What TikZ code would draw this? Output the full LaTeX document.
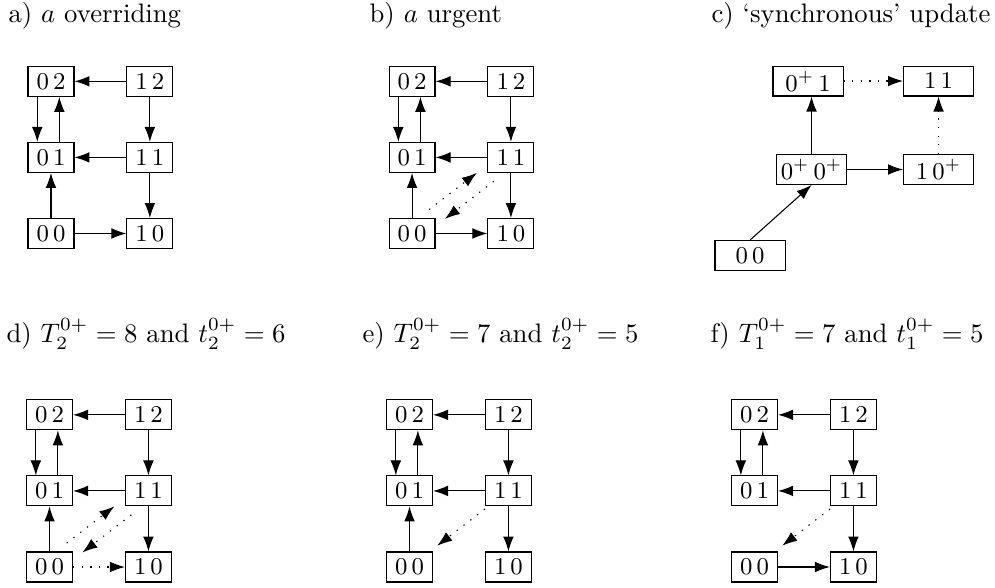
\documentclass[tikz,border=0pt]{standalone}
\usepackage{amsmath,amssymb}
\usetikzlibrary{arrows.meta,calc}

\tikzset{
  state/.style={draw,rectangle,minimum width=17.2pt,minimum height=11.2pt,inner sep=1pt,font=\small},
  widestate/.style={state,minimum width=26.2pt},
  trans/.style={-{Latex[length=5.6pt,width=4pt]}},
  dottrans/.style={trans,dash pattern=on 0.5pt off 2.7pt},
  caption/.style={anchor=base west,inner sep=0pt}
}

\begin{document}
\begin{tikzpicture}
  \useasboundingbox (0,0) rectangle (13.079,-7.729);

  % captions
  \node[caption] (capa) at (0.105,-0.302) {a) $a$ overriding};
  \node[caption] (capb) at (4.851,-0.302) {b) $a$ urgent};
  \node[caption] (capc) at (9.346,-0.302) {c) `synchronous' update};
  \node[caption] (capd) at (0.079,-4.496) {d) $T_2^{0+}=8$ and $t_2^{0+}=6$};
  \node[caption] (cape) at (4.758,-4.496) {e) $T_2^{0+}=7$ and $t_2^{0+}=5$};
  \node[caption] (capf) at (9.333,-4.496) {f) $T_1^{0+}=7$ and $t_1^{0+}=5$};

  % a) overriding
  \begin{scope}[shift={(0.670,-3.069)}]
    \node[state] (a00) at (0,0) {$0\,0$};
    \node[state] (a10) at (1.3,0) {$1\,0$};
    \node[state] (a01) at (0,1) {$0\,1$};
    \node[state] (a11) at (1.3,1) {$1\,1$};
    \node[state] (a02) at (0,2) {$0\,2$};
    \node[state] (a12) at (1.3,2) {$1\,2$};
    \draw[trans] (a12) -- (a02);
    \draw[trans] ([xshift=-0.18cm]a02.south) -- ([xshift=-0.18cm]a01.north);
    \draw[trans] ([xshift=0.11cm]a01.north) -- ([xshift=0.11cm]a02.south);
    \draw[trans] (a12) -- (a11);
    \draw[trans] (a11) -- (a01);
    \draw[trans] (a00) -- (a01);
    \draw[trans] (a11) -- (a10);
    \draw[trans] (a00) -- (a10);
  \end{scope}

  % b) urgent
  \begin{scope}[shift={(5.416,-3.069)}]
    \node[state] (b00) at (0,0) {$0\,0$};
    \node[state] (b10) at (1.3,0) {$1\,0$};
    \node[state] (b01) at (0,1) {$0\,1$};
    \node[state] (b11) at (1.3,1) {$1\,1$};
    \node[state] (b02) at (0,2) {$0\,2$};
    \node[state] (b12) at (1.3,2) {$1\,2$};
    \draw[trans] (b12) -- (b02);
    \draw[trans] ([xshift=-0.18cm]b02.south) -- ([xshift=-0.18cm]b01.north);
    \draw[trans] ([xshift=0.11cm]b01.north) -- ([xshift=0.11cm]b02.south);
    \draw[trans] (b12) -- (b11);
    \draw[trans] (b11) -- (b01);
    \draw[trans] (b00) -- (b01);
    \draw[trans] (b11) -- (b10);
    \draw[trans] (b00) -- (b10);
    \draw[dottrans] ($(b00)!0.37cm!(b11)+(-0.068,0.089)$) -- ($(b11)!0.48cm!(b00)+(-0.068,0.089)$);
    \draw[dottrans] ($(b11)!0.37cm!(b00)+(0.068,-0.089)$) -- ($(b00)!0.46cm!(b11)+(0.068,-0.089)$);
  \end{scope}

  % c) synchronous update
  \node[widestate] (c00) at (9.859,-3.359) {$0\,0$};
  \node[widestate] (cpp) at (10.667,-2.228) {$0^+\,0^+$};
  \node[widestate] (c1p) at (12.337,-2.228) {$1\,0^+$};
  \node[widestate] (cp1) at (10.621,-1.065) {$0^+\,1$};
  \node[widestate] (c11) at (12.337,-1.065) {$1\,1$};
  \draw[trans] (c00.north) -- (cpp.south);
  \draw[trans] (cpp.north) -- (cpp.north |- cp1.south);
  \draw[trans] (cpp) -- (c1p);
  \draw[dottrans] (cp1) -- (c11);
  \draw[dottrans] (c1p) -- (c11);

  % d)
  \begin{scope}[shift={(0.651,-7.453)}]
    \node[state] (d00) at (0,0) {$0\,0$};
    \node[state] (d10) at (1.3,0) {$1\,0$};
    \node[state] (d01) at (0,1) {$0\,1$};
    \node[state] (d11) at (1.3,1) {$1\,1$};
    \node[state] (d02) at (0,2) {$0\,2$};
    \node[state] (d12) at (1.3,2) {$1\,2$};
    \draw[trans] (d12) -- (d02);
    \draw[trans] ([xshift=-0.18cm]d02.south) -- ([xshift=-0.18cm]d01.north);
    \draw[trans] ([xshift=0.11cm]d01.north) -- ([xshift=0.11cm]d02.south);
    \draw[trans] (d12) -- (d11);
    \draw[trans] (d11) -- (d01);
    \draw[trans] (d00) -- (d01);
    \draw[trans] (d11) -- (d10);
    \draw[dottrans] (d00) -- (d10);
    \draw[dottrans] ($(d00)!0.37cm!(d11)+(-0.068,0.089)$) -- ($(d11)!0.48cm!(d00)+(-0.068,0.089)$);
    \draw[dottrans] ($(d11)!0.37cm!(d00)+(0.068,-0.089)$) -- ($(d00)!0.46cm!(d11)+(0.068,-0.089)$);
  \end{scope}

  % e)
  \begin{scope}[shift={(5.383,-7.453)}]
    \node[state] (e00) at (0,0) {$0\,0$};
    \node[state] (e10) at (1.3,0) {$1\,0$};
    \node[state] (e01) at (0,1) {$0\,1$};
    \node[state] (e11) at (1.3,1) {$1\,1$};
    \node[state] (e02) at (0,2) {$0\,2$};
    \node[state] (e12) at (1.3,2) {$1\,2$};
    \draw[trans] (e12) -- (e02);
    \draw[trans] ([xshift=-0.18cm]e02.south) -- ([xshift=-0.18cm]e01.north);
    \draw[trans] ([xshift=0.11cm]e01.north) -- ([xshift=0.11cm]e02.south);
    \draw[trans] (e12) -- (e11);
    \draw[trans] (e11) -- (e01);
    \draw[trans] (e00) -- (e01);
    \draw[trans] (e11) -- (e10);
    \draw[dottrans] ($(e11)!0.39cm!(e00)$) -- ($(e00)!0.46cm!(e11)$);
  \end{scope}

  % f)
  \begin{scope}[shift={(9.918,-7.453)}]
    \node[state] (f00) at (0,0) {$0\,0$};
    \node[state] (f10) at (1.3,0) {$1\,0$};
    \node[state] (f01) at (0,1) {$0\,1$};
    \node[state] (f11) at (1.3,1) {$1\,1$};
    \node[state] (f02) at (0,2) {$0\,2$};
    \node[state] (f12) at (1.3,2) {$1\,2$};
    \draw[trans] (f12) -- (f02);
    \draw[trans] ([xshift=-0.18cm]f02.south) -- ([xshift=-0.18cm]f01.north);
    \draw[trans] ([xshift=0.11cm]f01.north) -- ([xshift=0.11cm]f02.south);
    \draw[trans] (f12) -- (f11);
    \draw[trans] (f11) -- (f01);
    \draw[trans] (f11) -- (f10);
    \draw[trans] (f00) -- (f10);
    \draw[dottrans] ($(f11)!0.39cm!(f00)$) -- ($(f00)!0.46cm!(f11)$);
  \end{scope}
\end{tikzpicture}
\end{document}
